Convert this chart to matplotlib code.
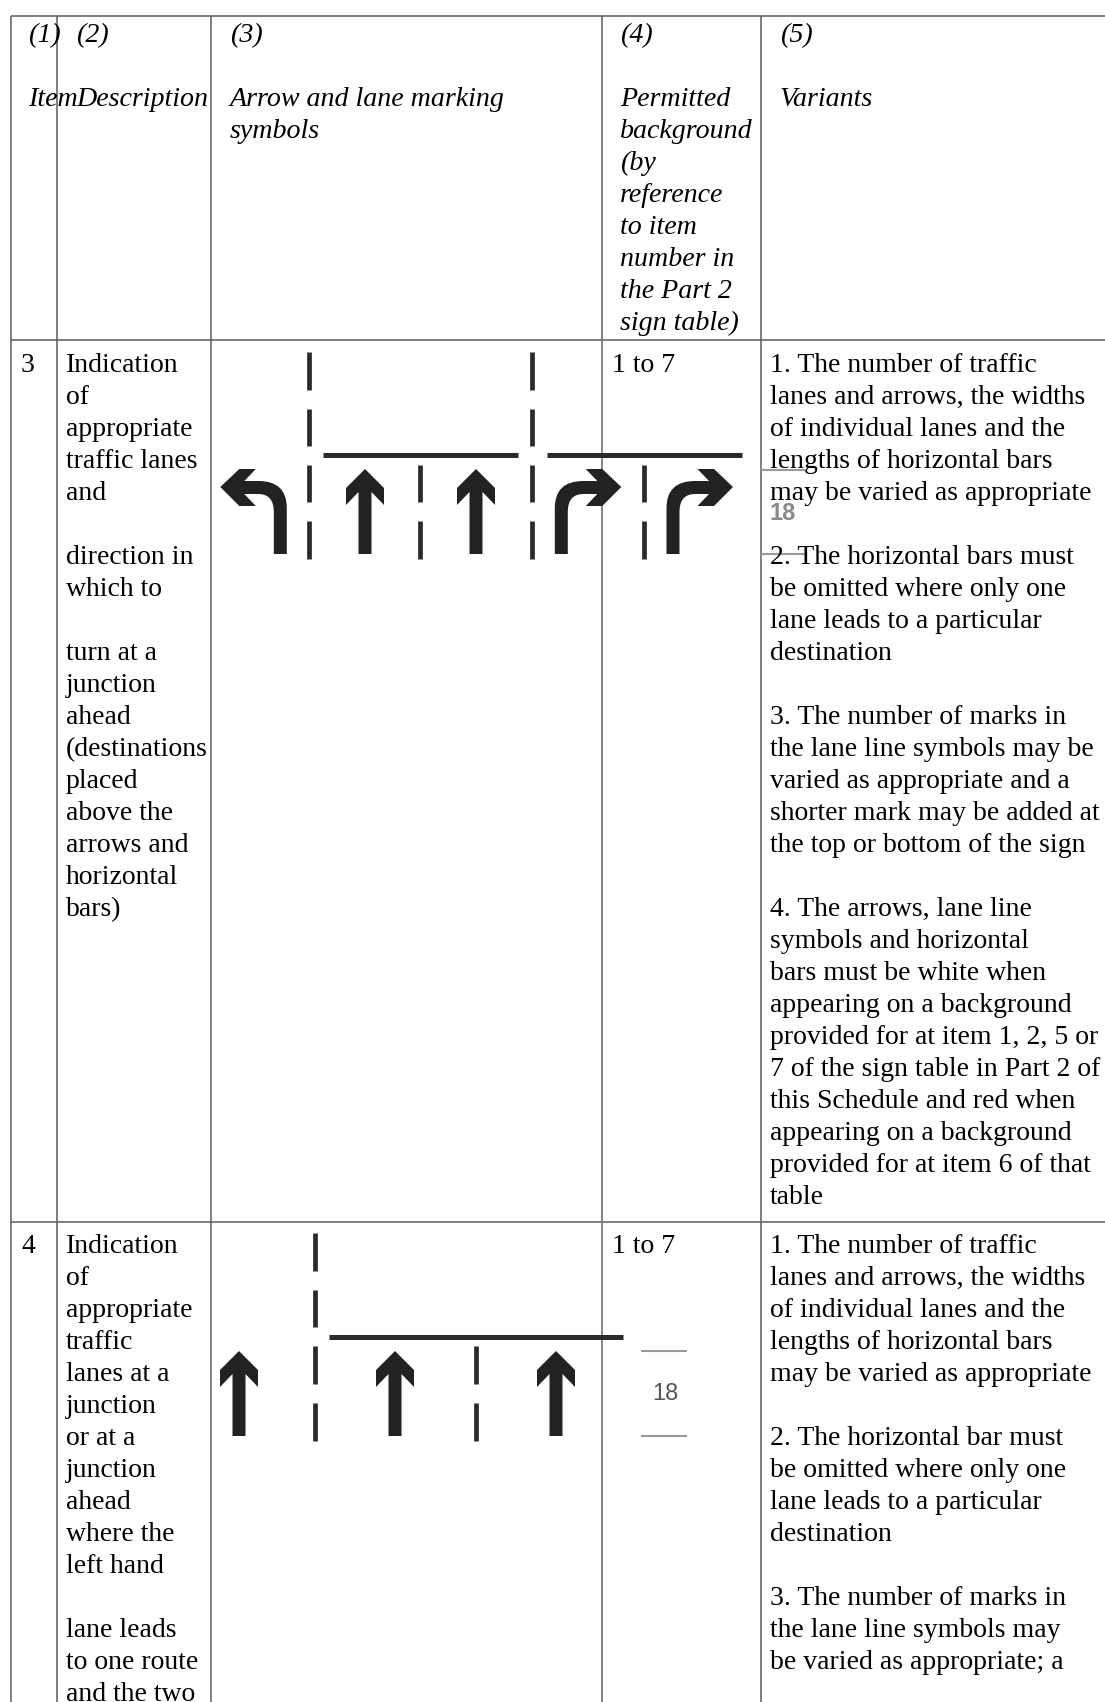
import matplotlib
matplotlib.use('Agg')
import matplotlib.pyplot as plt
from matplotlib.path import Path
from matplotlib.patches import PathPatch

plt.rcParams['font.family'] = ['Liberation Serif', 'DejaVu Serif']

W, H = 1105, 1702

col_edges = [11, 57, 211, 601.5, 761]
row_edges = [15.5, 340, 1222]
line_step = 32
fs = 20

head_x = [28.5, 76, 230, 620, 780]
body_x = [21, 66, 612, 770]

head_1 = ["(1)", "", "Item"]
head_2 = ["(2)", "", "Description"]
head_3 = ["(3)", "", "Arrow and lane marking", "symbols"]
head_4 = ["(4)", "", "Permitted", "background", "(by", "reference", "to item", "number in", "the Part 2", "sign table)"]
head_5 = ["(5)", "", "Variants"]

item_3 = ["3"]
desc_3 = ["Indication", "of", "appropriate", "traffic lanes", "and", "", "direction in", "which to", "",
          "turn at a", "junction", "ahead", "(destinations", "placed", "above the", "arrows and",
          "horizontal", "bars)"]
bg_3 = ["1 to 7"]
var_3 = ["1. The number of traffic", "lanes and arrows, the widths", "of individual lanes and the",
         "lengths of horizontal bars", "may be varied as appropriate", "",
         "2. The horizontal bars must", "be omitted where only one", "lane leads to a particular",
         "destination", "",
         "3. The number of marks in", "the lane line symbols may be", "varied as appropriate and a",
         "shorter mark may be added at", "the top or bottom of the sign", "",
         "4. The arrows, lane line", "symbols and horizontal", "bars must be white when",
         "appearing on a background", "provided for at item 1, 2, 5 or", "7 of the sign table in Part 2 of",
         "this Schedule and red when", "appearing on a background", "provided for at item 6 of that",
         "table"]

item_4 = ["4"]
desc_4 = ["Indication", "of", "appropriate", "traffic", "lanes at a", "junction", "or at a", "junction",
          "ahead", "where the", "left hand", "", "lane leads", "to one route", "and the two"]
bg_4 = ["1 to 7"]
var_4 = ["1. The number of traffic", "lanes and arrows, the widths", "of individual lanes and the",
         "lengths of horizontal bars", "may be varied as appropriate", "",
         "2. The horizontal bar must", "be omitted where only one", "lane leads to a particular",
         "destination", "",
         "3. The number of marks in", "the lane line symbols may", "be varied as appropriate; a"]

# symbols, row 3
r3_lane_x = [309, 420, 532, 644]
r3_lane_marks = [[(352, 390), (409, 446), (465, 502), (521, 559)],
                 [(465, 502), (521, 559)],
                 [(352, 390), (409, 446), (465, 502), (521, 559)],
                 [(465, 502), (521, 559)]]
r3_bars = [(323, 518, 455), (547, 742, 455)]
r3_up = [365, 476]
r3_left = [280.3]
r3_right = [561.3, 673]

# symbols, row 4
r4_lane_x = [315, 476]
r4_lane_marks = [[(1233, 1271), (1290, 1327), (1346, 1384), (1403, 1441)],
                 [(1346, 1384), (1403, 1441)]]
r4_bars = [(329, 623, 1337)]
r4_up = [239, 395, 556]

fig = plt.figure(figsize=(W / 100, H / 100), dpi=100)
ax = fig.add_axes([0, 0, 1, 1])
ax.set_xlim(0, W)
ax.set_ylim(H, 0)
ax.axis('off')

grid_c = '#5c5c5c'
for x in col_edges:
    ax.plot([x, x], [row_edges[0], H], color=grid_c, lw=1.1, zorder=1, solid_capstyle='butt')
for y in row_edges:
    ax.plot([col_edges[0], W], [y, y], color=grid_c, lw=1.1, zorder=1, solid_capstyle='butt')


def put_lines(x, y0, lines, style='normal', size=fs):
    for i, s in enumerate(lines):
        if s:
            ax.text(x, y0 + i * line_step, s, fontsize=size, style=style, color='#000000',
                    ha='left', va='baseline', zorder=3)


for x, lines in zip(head_x, [head_1, head_2, head_3, head_4, head_5]):
    put_lines(x, 42, lines, style='italic', size=20.2)
for x, lines in zip(body_x, [item_3, desc_3, bg_3, var_3]):
    put_lines(x, 372, lines)
for x, lines in zip(body_x, [item_4, desc_4, bg_4, var_4]):
    put_lines(x, 1253, lines)


def up_arrow(cx, tip, bottom):
    pts = [(0, tip), (19, tip + 19), (19, tip + 36), (6.5, tip + 23), (6.5, bottom),
           (-6.5, bottom), (-6.5, tip + 23), (-19, tip + 36), (-19, tip + 19), (0, tip)]
    pts = [(cx + a, b) for a, b in pts]
    codes = [Path.MOVETO] + [Path.LINETO] * 8 + [Path.CLOSEPOLY]
    ax.add_patch(PathPatch(Path(pts, codes), fc='#222222', ec='none', zorder=4))


def turn_arrow(cx, sgn):
    # sgn=-1 left turn, sgn=1 right turn
    pts = [(60, 487), (41, 469), (24.5, 469), (36, 481), (22, 481), (-6.5, 481), (-6.5, 508),
           (-6.5, 554), (6.5, 554), (6.5, 512), (6.5, 494), (22, 494), (36, 494), (24.5, 506),
           (41, 506), (60, 487)]
    pts = [(cx + sgn * a, b) for a, b in pts]
    codes = [Path.MOVETO, Path.LINETO, Path.LINETO, Path.LINETO, Path.LINETO,
             Path.CURVE3, Path.CURVE3, Path.LINETO, Path.LINETO, Path.LINETO,
             Path.CURVE3, Path.CURVE3, Path.LINETO, Path.LINETO, Path.LINETO, Path.CLOSEPOLY]
    ax.add_patch(PathPatch(Path(pts, codes), fc='#222222', ec='none', zorder=4))


def lanes(xs, marks, bars):
    for x, mm in zip(xs, marks):
        for y0, y1 in mm:
            ax.plot([x, x], [y0, y1], color='#2a2a2a', lw=3.4, solid_capstyle='butt', zorder=4)
    for x0, x1, y in bars:
        ax.plot([x0, x1], [y, y], color='#2a2a2a', lw=3.6, solid_capstyle='butt', zorder=4)


lanes(r3_lane_x, r3_lane_marks, r3_bars)
for c in r3_up:
    up_arrow(c, 469, 554)
for c in r3_left:
    turn_arrow(c, -1)
for c in r3_right:
    turn_arrow(c, 1)

lanes(r4_lane_x, r4_lane_marks, r4_bars)
for c in r4_up:
    up_arrow(c, 1351, 1436)

# the "18" dimension marks that show through the sign image
for x0, x1, y in [(761, 805, 469.5), (761, 805, 553.5), (641, 687, 1351), (641, 687, 1436)]:
    ax.plot([x0, x1], [y, y], color='#999999', lw=1.5, solid_capstyle='butt', zorder=2)
ax.text(783, 513, "18", family='Liberation Sans', fontsize=17, weight='bold', color='#8a8a8a', ha='center', va='center', zorder=2)
ax.text(665, 1394, "18", family='Liberation Sans', fontsize=17, color='#555555', ha='center', va='center', zorder=2)

# image overlay makes the column line look pale here
for y0, y1 in [(340, 559), (1222, 1441)]:
    ax.plot([601.5, 601.5], [y0, y1], color='#8c8c8c', lw=1.1, solid_capstyle='butt', zorder=3.5)

fig.savefig('out.png', dpi=100, facecolor='white')
